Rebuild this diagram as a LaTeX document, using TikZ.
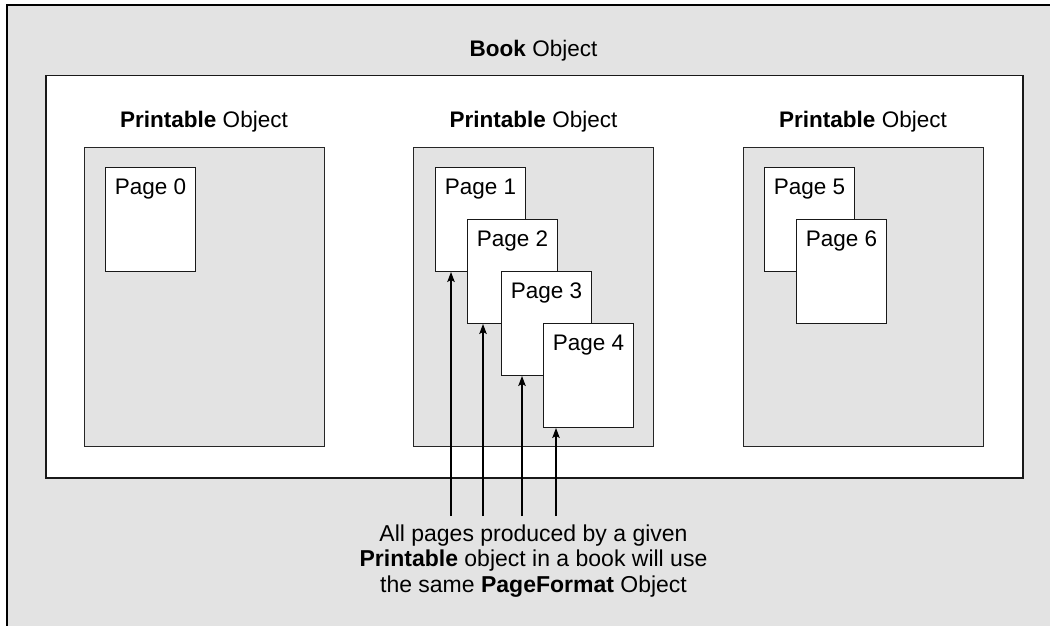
\documentclass[tikz,border=0pt]{standalone}
\usepackage{fontspec}
\setmainfont{Liberation Sans}
\usetikzlibrary{arrows.meta}
\definecolor{panelgray}{HTML}{E3E3E3}

\begin{document}
\begin{tikzpicture}[x=1pt, y=-1pt, line join=miter,
    lbl/.style={inner sep=0pt, anchor=base, font=\fontsize{22.5}{26}\selectfont},
    holder/.style={draw=black!85, fill=panelgray, line width=1pt, anchor=north west,
      minimum width=240pt, minimum height=299pt, inner sep=0pt},
    sheet/.style={draw=black!90, fill=white, line width=1pt, anchor=north west,
      minimum width=90pt, inner xsep=0pt, inner ysep=11pt,
      text height=16pt, text depth=66pt, font=\fontsize{22.5}{26}\selectfont},
    ptr/.style={line width=1.1pt, -{Stealth[length=10pt, width=7.5pt, inset=2pt]}}]
  \useasboundingbox (0,0) rectangle (1050,626);
  \fill[white] (0,0) rectangle (1050,626);
  % grey frame, ruled on top and left only
  \fill[panelgray] (7,5) rectangle (1050,626);
  \draw[line width=1.5pt] (7,626) -- (7,5) -- (1050,5);

  % Book
  \node[lbl] (booklbl) at (533.5,57) {\textbf{Book} Object};
  \node[draw=black!90, fill=white, line width=1.5pt, anchor=north west, inner sep=0pt,
    minimum width=977pt, minimum height=402pt] (book) at (45,75) {};

  % (left) Printable with one page
  \node[lbl] (plbl1) at (204,127) {\textbf{Printable} Object};
  \node[holder] (pr1) at (84,147) {};
  \node[sheet] (p0) at (105,167) {Page 0};

  % (middle) Printable with four pages
  \node[lbl] (plbl2) at (533.5,127) {\textbf{Printable} Object};
  \node[holder] (pr2) at (413,147) {};
  \node[sheet] (p1) at (435,167) {Page 1};
  \node[sheet] (p2) at (467,219) {Page 2};
  \node[sheet] (p3) at (501,271) {Page 3};
  \node[sheet] (p4) at (543,323) {Page 4};

  % (right) Printable with two pages
  \node[lbl] (plbl3) at (863,127) {\textbf{Printable} Object};
  \node[holder] (pr3) at (743,147) {};
  \node[sheet] (p5) at (764,167) {Page 5};
  \node[sheet] (p6) at (796,219) {Page 6};

  % note and pointers
  \node[inner sep=0pt, anchor=north, align=center,
    font=\fontsize{23}{25.5}\selectfont] (note) at (533.5,524.5)
    {All pages produced by a given\\
     \textbf{Printable} object in a book will use\\
     the same \textbf{PageFormat} Object};
  \coordinate (a1) at (451,516);
  \coordinate (a2) at (483,516);
  \coordinate (a3) at (522,516);
  \coordinate (a4) at (556,516);
  \draw[ptr] (a1) -- (a1 |- p1.south);
  \draw[ptr] (a2) -- (a2 |- p2.south);
  \draw[ptr] (a3) -- (a3 |- p3.south);
  \draw[ptr] (a4) -- (a4 |- p4.south);
\end{tikzpicture}
\end{document}
